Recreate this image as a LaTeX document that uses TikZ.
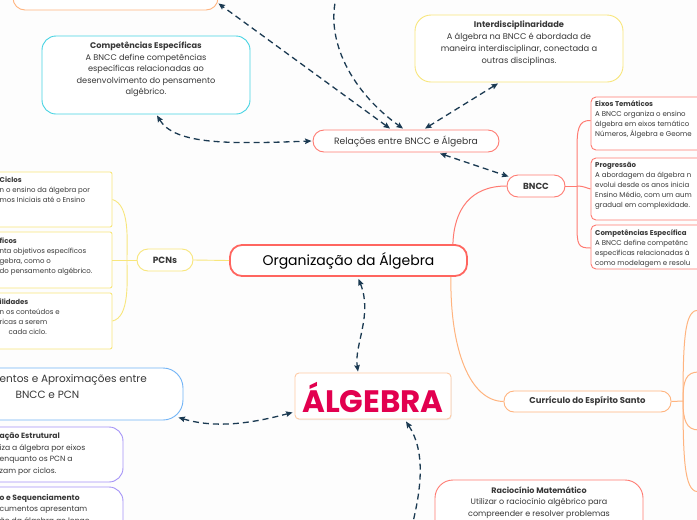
\documentclass[tikz,border=0pt]{standalone}
\usepackage{fontspec}
\setmainfont{Poppins}
\usetikzlibrary{arrows.meta,calc,shadows}
\definecolor{navy}{HTML}{1B3A52}
\definecolor{orangec}{HTML}{FFB47F}
\definecolor{cyanc}{HTML}{45D3E3}
\definecolor{yellowc}{HTML}{F8E67C}
\definecolor{redc}{HTML}{FF7B72}
\definecolor{orgred}{HTML}{FF6660}
\definecolor{crimson}{HTML}{E2004F}
\definecolor{bluec}{HTML}{72B4F6}
\definecolor{purplec}{HTML}{A593F7}
\definecolor{txt}{HTML}{383838}
\definecolor{bgc}{HTML}{FDFDFD}
\begin{document}
\begin{tikzpicture}[x=1pt,y=-1pt,
  box/.style={rectangle,inner sep=0pt,fill=white,line width=0.9pt},
  txtn/.style={inner sep=0pt,text=txt},
  dconn/.style={draw=navy,line width=1.3pt,dash pattern=on 6pt off 4pt,
     {Stealth[length=6.5pt,width=5.5pt,inset=1pt]}-{Stealth[length=6.5pt,width=5.5pt,inset=1pt]}},
  dconnE/.style={draw=navy,line width=1.3pt,dash pattern=on 6pt off 4pt,
     -{Stealth[length=6.5pt,width=5.5pt,inset=1pt]}},
  dconnS/.style={draw=navy,line width=1.3pt,dash pattern=on 6pt off 4pt,
     {Stealth[length=6.5pt,width=5.5pt,inset=1pt]}-},
  ylink/.style={draw=yellowc,line width=0.9pt},
  rlink/.style={draw=redc,line width=1pt},
  olink/.style={draw=orangec,line width=1pt}
]
\useasboundingbox (0,0) rectangle (697,520);
\clip (0,0) rectangle (697,520);
\fill[bgc] (0,0) rectangle (697,520);

% bracket points
\coordinate (pcnbr) at (127,260);
\coordinate (bnbr) at (577,186);
\coordinate (cubr) at (683,401);
\coordinate (cu1) at (699,310);
\coordinate (cu2) at (699,372);
\coordinate (cu3) at (699,430);
\coordinate (cu4) at (699,492);

% ---------- boxes ----------
\node[box,draw=orangec,rounded corners=12pt,minimum width=205,minimum height=50] (topor) at (115.5,-15) {};
\node[box,draw=cyanc,rounded corners=14pt,minimum width=208,minimum height=78] (compesp) at (146,75) {};
\node[box,draw=yellowc,rounded corners=16pt,minimum width=208,minimum height=67] (interd) at (519,48.5) {};
\node[box,draw=redc,rounded corners=11pt,minimum width=186,minimum height=22] (rel) at (406,141) {};
\node[box,draw=redc,rounded corners=11pt,minimum width=58,minimum height=22] (bncc) at (536,186) {};
\node[box,draw=orgred,line width=1.8pt,rounded corners=12pt,minimum width=237,minimum height=31] (org) at (348.5,260.5) {};
\node[box,draw=yellowc,rounded corners=11pt,minimum width=56,minimum height=22] (pcns) at (165,260) {};
\node[box,draw=yellowc,rounded corners=2pt,minimum width=172,minimum height=55] (pcn1) at (26,199.5) {};
\node[box,draw=yellowc,rounded corners=2pt,minimum width=172,minimum height=56] (pcn2) at (26,260) {};
\node[box,draw=yellowc,rounded corners=2pt,minimum width=172,minimum height=56] (pcn3) at (26,321) {};
\node[box,draw=redc,rounded corners=5pt,minimum width=170,minimum height=53] (bn1) at (676,123.5) {};
\node[box,draw=redc,rounded corners=5pt,minimum width=170,minimum height=62] (bn2) at (676,189) {};
\node[box,draw=redc,rounded corners=5pt,minimum width=170,minimum height=44] (bn3) at (676,247) {};
\node[box,draw=orangec,rounded corners=10pt,minimum width=167,minimum height=21] (curr) at (587.5,401.5) {};
\node[box,draw=orangec!70,rounded corners=4pt,minimum width=156,minimum height=46,
      drop shadow={shadow xshift=0.6pt,shadow yshift=-1pt,opacity=0.15}] (alg) at (373,396) {};
\node[box,draw=bluec,rounded corners=20pt,minimum width=273,minimum height=52] (dist) at (46.5,394) {};
\node[box,draw=purplec,rounded corners=14pt,minimum width=183,minimum height=55] (pur1) at (31.5,454.5) {};
\node[box,draw=purplec,rounded corners=14pt,minimum width=183,minimum height=73] (pur2) at (31.5,523.5) {};
\node[box,draw=redc,rounded corners=18pt,minimum width=208,minimum height=80] (racio) at (539,520) {};

% ---------- solid connectors ----------
\draw[ylink] (pcns.west) -- (pcn2.east);
\draw[ylink] (pcn1.east) .. controls (130,205) and (127,240) .. (pcnbr)
              .. controls (127,280) and (130,317) .. (pcn3.east);
\draw[ylink] (pcns.east) -- (org.west);
\draw[rlink] (bncc.east) -- (bnbr);
\draw[rlink] ($(bn1.west)+(0,-3)$) .. controls (578,120) and (577,130) .. (577,150) -- (577,225)
              .. controls (577,245) and (578,248) .. ($(bn3.west)+(0,1)$);
\draw[rlink] (bnbr) .. controls (584,186) and (586,188) .. (bn2.west);
\draw[rlink] (bncc.west) .. controls (470,186) and (454,210) .. ($(org.north east)+(-15,0)$);
\draw[olink] ($(org.south east)+(-17,0)$) .. controls (450,350) and (470,401) .. (curr.west);
\draw[olink] (curr.east) -- (cubr);
\draw[olink] (cubr) .. controls (683,330) and (686,310) .. (cu1);
\draw[olink] (cubr) .. controls (683,380) and (686,372) .. (cu2);
\draw[olink] (cubr) .. controls (683,420) and (686,430) .. (cu3);
\draw[olink] (cubr) .. controls (683,470) and (686,492) .. (cu4);

% ---------- dashed connectors ----------
\coordinate (topfree) at (337,-6);
\coordinate (botfree) at (412,526);
\draw[dconn] ($(rel.north)+(-16,-1)$) -- ($(topor.south east)+(0,-7)$);
\draw[dconnE] (topfree) .. controls (324,40) and (352,92) .. ($(rel.north)+(-3,-1)$);
\draw[dconn] ($(interd.south)+(-21,1)$) -- ($(rel.north)+(19,-1)$);
\draw[dconn] ($(compesp.south)+(11,1)$) .. controls (175,145) and (230,144) .. ($(rel.west)+(-1,0)$);
\draw[dconn] ($(rel.south)+(34,1)$) -- ($(bncc.north west)+(2,2)$);
\draw[dconn] ($(org.south)+(10,2)$) .. controls (373,315) and (354,345) .. ($(alg.north)+(-15,-1)$);
\draw[dconn] ($(dist.south east)+(-5,-3)$) .. controls (220,430) and (260,421) .. ($(alg.south west)+(-2,-7)$);
\draw[dconnS] ($(alg.south)+(33,2)$) .. controls (426,452) and (421,490) .. (botfree);

% ---------- texts ----------
\node[txtn,font=\fontsize{8.2}{11.5}\selectfont,align=center,anchor=north] (compespT) at (146,41.5)
  {\textbf{Competências Específicas}\\A BNCC define competências\\específicas relacionadas ao\\desenvolvimento do pensamento\\algébrico.};
\node[txtn,font=\fontsize{8.3}{12}\selectfont,align=center,anchor=north] (interdT) at (519,20.5)
  {\textbf{Interdisciplinaridade}\\A álgebra na BNCC é abordada de\\maneira interdisciplinar, conectada a\\outras disciplinas.};
\node[txtn,font=\fontsize{9.2}{11}\selectfont] (relT) at (rel.center) {Relações entre BNCC e Álgebra};
\node[txtn,font=\fontsize{8.8}{11}\selectfont\bfseries] (bnccT) at (bncc.center) {BNCC};
\node[txtn,font=\fontsize{14}{16}\selectfont,text=black] (orgT) at (org.center) {Organização da Álgebra};
\node[txtn,font=\fontsize{9}{11}\selectfont\bfseries] (pcnsT) at (pcns.center) {PCNs};
\node[txtn,font=\fontsize{8.5}{11}\selectfont\bfseries] (currT) at (curr.center) {Currículo do Espírito Santo};
\node[txtn,font=\fontsize{31}{33}\selectfont\bfseries,text=crimson] (algT) at ($(alg.center)+(0,1)$) {ÁLGEBRA};

\node[txtn,font=\fontsize{7}{10}\selectfont,align=left,anchor=north west] (pcn1T) at (-0.5,176.5)
  {\textbf{Ciclos}\\n o ensino da álgebra por\\mos Iniciais até o Ensino};
\node[txtn,font=\fontsize{7}{10}\selectfont,align=left,anchor=north west] (pcn2T) at (-0.5,237.5)
  {\textbf{ficos}\\nta objetivos específicos\\gebra, como o\\do pensamento algébrico.};
\node[txtn,font=\fontsize{7}{10}\selectfont,align=left,anchor=north west] (pcn3T) at (-0.5,298.5)
  {\textbf{ilidades}\\n os conteúdos e\\ricas a serem\\\hspace*{9pt}cada ciclo.};

\node[txtn,font=\fontsize{7}{10}\selectfont,align=left,anchor=north west] (bn1T) at (595,100.5)
  {\textbf{Eixos Temáticos}\\A BNCC organiza o ensino\\álgebra em eixos temático\\Números, Álgebra e Geome};
\node[txtn,font=\fontsize{7}{10}\selectfont,align=left,anchor=north west] (bn2T) at (595,162.5)
  {\textbf{Progressão}\\A abordagem da álgebra n\\evolui desde os anos inicia\\Ensino Médio, com um aum\\gradual em complexidade.};
\node[txtn,font=\fontsize{7}{10}\selectfont,align=left,anchor=north west] (bn3T) at (595,229.5)
  {\textbf{Competências Específica}\\A BNCC define competênc\\específicas relacionadas à\\como modelagem e resolu};

\node[txtn,font=\fontsize{10.5}{15}\selectfont,anchor=west] (distT1) at (-0.5,380) {entos e Aproximações entre};
\node[txtn,font=\fontsize{10.5}{15}\selectfont] (distT2) at (47.5,395) {BNCC e PCN};

\node[txtn,font=\fontsize{7.6}{11.5}\selectfont,align=left,anchor=north west] (pur1T) at (-0.5,433)
  {\textbf{ação Estrutural}\\iza a álgebra por eixos\\enquanto os PCN a\\zam por ciclos.};
\node[txtn,font=\fontsize{7.6}{11.5}\selectfont,align=left,anchor=north west] (pur2T) at (-0.5,494)
  {\textbf{o e Sequenciamento}\\cumentos apresentam\\ão da álgebra ao longo};

\node[txtn,font=\fontsize{8}{11.5}\selectfont,align=center,anchor=north] (racioT) at (539,486.5)
  {\textbf{Raciocínio Matemático}\\Utilizar o raciocínio algébrico para\\compreender e resolver problemas};
\end{tikzpicture}
\end{document}
